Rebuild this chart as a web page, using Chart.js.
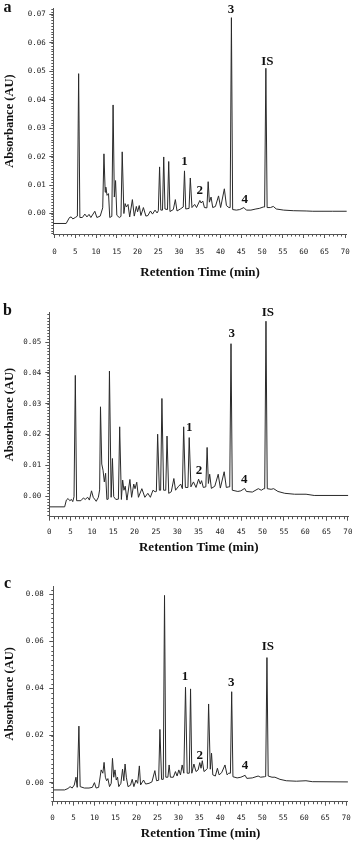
<!DOCTYPE html>
<html>
<head>
<meta charset="UTF-8">
<script src="https://cdn.jsdelivr.net/npm/chart.js@4"></script>
<style>
  body { margin: 0; background: #fff; }
  canvas { position: absolute; left: 0; }
</style>
</head>
<body>
<canvas id="chartA" width="359" height="280" style="top:0px"></canvas>
<canvas id="chartB" width="359" height="275" style="top:280px"></canvas>
<canvas id="chartC" width="359" height="286" style="top:555px"></canvas>
<script>
// retention time (min) and absorbance (AU)
const timeA = [-0.3, 2.8, 3.6, 4.0, 4.4, 5.0, 5.5, 5.8, 6.1, 6.7, 7.3, 7.8, 8.3, 8.75, 9.7, 10.2, 11.0, 11.6, 11.9, 12.2,
  12.35, 12.65, 13.0, 13.3, 13.8, 14.1, 14.4, 14.7, 15.0, 15.6, 16.0, 16.3, 16.7, 17.0, 17.3, 17.7, 18.1, 18.75, 19.2, 19.7,
  20.0, 20.4, 20.8, 21.4, 22.0, 22.5, 23.1, 23.6, 24.2, 24.7, 25.0, 25.3, 25.6, 26.0, 26.3, 26.6, 27.2, 27.5, 27.8, 28.6,
  29.1, 29.5, 30.3, 31.0, 31.3, 31.6, 32.4, 32.7, 33.1, 33.75, 34.2, 35.0, 35.3, 35.7, 36.1, 36.7, 37.0, 37.3, 37.7, 38.1,
  38.75, 39.5, 40.0, 40.9, 41.4, 42.0, 42.3, 42.6, 42.9, 43.8, 44.6, 45.6, 46.2, 47.3, 48.5, 49.3, 50.3, 50.6, 50.9, 51.2,
  52.0, 52.7, 53.4, 55.2, 57.5, 60.6, 62.2, 66.9, 70.4];
const absA = [-0.0035, -0.0035, -0.0014, -0.0012, -0.0019, -0.0014, -0.0009, 0.0492, -0.0014, -0.0014, -0.0002, -0.0012, -0.0003, -0.0014, 0.0008, -0.0014, -0.0009, 0.002, 0.021, 0.0075,
  0.0093, 0.0064, 0.007, -0.0014, -0.001, 0.0382, 0.0058, 0.0116, -0.0006, -0.0014, -0.001, 0.0217, 0, 0.0035, 0.0023, 0.0032, -0.0012, 0.0049, -0.0009, 0.0025,
  0.0006, 0.0028, -0.0007, 0.0021, -0.0009, -0.0007, 0.0009, -0.0002, 0.0012, 0.0002, 0.001, 0.0164, 0.0012, 0.0012, 0.0199, 0.0016, 0.0014, 0.0183, 0.0007, 0.0014,
  0.0049, 0.0009, 0.0016, 0.0023, 0.015, 0.0016, 0.0018, 0.0125, 0.0021, 0.0032, 0.0021, 0.0046, 0.0037, 0.0044, 0.0021, 0.002, 0.0112, 0.004, 0.0058, 0.0021,
  0.0025, 0.0062, 0.0021, 0.0087, 0.0028, 0.0021, 0.0021, 0.0689, 0.0014, 0.0012, 0.0014, 0.0021, 0.0012, 0.0012, 0.0016, 0.0018, 0.0023, 0.0023, 0.0511, 0.0021,
  0.0021, 0.0025, 0.0016, 0.0012, 0.001, 0.0009, 0.0008, 0.0008, 0.0008];

const timeB = [0, 3.6, 4.0, 4.4, 4.8, 5.2, 5.5, 5.8, 6.1, 6.4, 7.4, 8.0, 8.4, 9.0, 9.4, 9.9, 10.3, 11.0, 11.5, 11.8,
  12.0, 12.3, 12.6, 12.9, 13.2, 13.5, 13.8, 14.1, 14.5, 14.8, 15.1, 15.6, 16.2, 16.5, 16.9, 17.2, 17.5, 17.8, 18.2, 18.9,
  19.3, 19.8, 20.1, 20.5, 20.9, 21.7, 22.4, 23.1, 23.7, 24.3, 24.8, 25.1, 25.4, 25.8, 26.1, 26.4, 26.8, 27.3, 27.6, 28.0,
  28.6, 29.2, 29.6, 30.2, 30.8, 31.2, 31.5, 31.9, 32.5, 32.8, 33.2, 33.8, 34.4, 35.0, 35.4, 35.7, 36.1, 36.7, 37.0, 37.3,
  37.6, 38.0, 38.8, 39.6, 40.1, 41.0, 41.5, 42.1, 42.3, 42.6, 42.9, 44.2, 44.9, 45.8, 46.2, 47.6, 49.0, 49.7, 50.3, 50.5,
  50.8, 51.1, 52.0, 52.6, 53.6, 55.2, 57.5, 60.2, 62.1, 70.1];
const absB = [-0.0035, -0.0035, -0.0013, -0.0008, -0.0015, -0.0011, -0.0018, -0.0002, 0.0392, -0.0015, -0.0015, -0.0006, -0.0011, -0.0004, -0.0013, 0.0017, -0.0004, -0.0017, -0.0004, 0.002,
  0.029, 0.0104, 0.0084, 0.0046, 0.0074, -0.0011, -0.001, 0.0406, -0.0004, 0.0122, -0.0002, -0.0011, -0.001, 0.0225, -0.0011, 0.0052, 0.0019, 0.0032, -0.0013, 0.0054,
  -0.0004, 0.0039, 0.0024, 0.0045, -0.0004, 0.0024, -0.0004, 0.0009, -0.0004, 0.0019, 0.0014, 0.0015, 0.0201, 0.0019, 0.0019, 0.0317, 0.0019, 0.0019, 0.0195, 0.0009,
  0.0014, 0.0057, 0.0019, 0.003, 0.0039, 0.0024, 0.0225, 0.0028, 0.0028, 0.019, 0.003, 0.0046, 0.0028, 0.0055, 0.0039, 0.005, 0.0028, 0.003, 0.0158, 0.0041,
  0.0071, 0.0025, 0.0032, 0.0071, 0.0026, 0.0079, 0.0028, 0.003, 0.003, 0.0495, 0.0019, 0.0015, 0.0017, 0.0025, 0.0015, 0.0013, 0.0024, 0.0019, 0.0024, 0.0024,
  0.0568, 0.0024, 0.0022, 0.0024, 0.0015, 0.0009, 0.0006, 0.0006, 0.0002, 0.0002];

const timeC = [0.2, 2.9, 3.7, 4.2, 4.7, 5.2, 5.6, 5.9, 6.3, 6.6, 7.6, 8.7, 9.5, 10.0, 10.4, 11.0, 11.6, 12.0, 12.3, 12.6,
  12.9, 13.2, 13.6, 14.0, 14.3, 14.6, 14.9, 15.2, 15.5, 15.8, 16.3, 16.7, 17.0, 17.3, 17.6, 18.0, 18.6, 19.0, 19.4, 19.9,
  20.3, 20.7, 21.0, 21.7, 22.2, 23.0, 23.7, 24.4, 24.8, 25.3, 25.6, 26.0, 26.4, 26.7, 27.0, 27.5, 27.8, 28.1, 28.8, 29.3,
  29.7, 30.1, 30.5, 30.9, 31.3, 31.7, 32.1, 32.6, 32.9, 33.2, 33.7, 34.2, 34.7, 35.1, 35.4, 35.7, 36.1, 36.6, 36.9, 37.2,
  37.6, 37.9, 38.2, 38.8, 39.3, 39.7, 40.3, 41.1, 41.6, 42.0, 42.4, 42.7, 43.0, 44.0, 44.9, 45.9, 46.3, 47.6, 49.0, 49.6,
  50.5, 50.8, 51.1, 51.4, 52.3, 53.0, 54.2, 55.7, 58.1, 60.4, 61.9, 70.4];
const absC = [-0.0031, -0.0031, -0.0025, -0.0017, -0.0023, -0.001, 0.0023, -0.002, 0.024, -0.0017, -0.0023, -0.0023, -0.002, 0, -0.0023, -0.002, 0.0054, 0.004, 0.0086, 0.0023,
  0.0008, 0.0017, -0.0017, -0.0003, 0.0103, 0.0023, 0.0054, 0.0011, 0.0023, -0.0017, -0.0003, 0.0057, 0.0008, 0.0079, 0.0023, -0.0017, -0.0011, 0.0014, -0.0017, 0.0011,
  -0.0003, 0.0071, -0.001, 0.0011, -0.0006, -0.0003, 0.0003, 0.0051, 0.0008, 0.001, 0.0226, 0.0014, 0.0014, 0.0795, 0.0023, 0.0023, 0.0075, 0.0023, 0.0023, 0.0047,
  0.0028, 0.0054, 0.0033, 0.0075, 0.004, 0.0405, 0.004, 0.004, 0.0398, 0.004, 0.0079, 0.0047, 0.0054, 0.0085, 0.0061, 0.0093, 0.0047, 0.0054, 0.006, 0.0334,
  0.0057, 0.0125, 0.0033, 0.0028, 0.0061, 0.0033, 0.0042, 0.0075, 0.0033, 0.004, 0.004, 0.0386, 0.0025, 0.002, 0.0023, 0.0031, 0.0018, 0.002, 0.0028, 0.0023,
  0.0025, 0.0026, 0.0531, 0.0028, 0.0023, 0.0023, 0.0014, 0.0008, 0.0006, 0.0008, 0.0004, 0.0003];

// tick labels
const xTicks = [0, 5, 10, 15, 20, 25, 30, 35, 40, 45, 50, 55, 60, 65, 70];
const yTicksA = [0, 0.01, 0.02, 0.03, 0.04, 0.05, 0.06, 0.07];
const yTicksB = [0, 0.01, 0.02, 0.03, 0.04, 0.05];
const yTicksC = [0, 0.02, 0.04, 0.06, 0.08];

// peak labels (name, time, height of the label)
const peakNames = ['1', '2', '3', '4', 'IS'];
const peakTimeA = [31.3, 35.0, 42.5, 45.8, 51.25];
const peakLabelA = [0.0182, 0.0081, 0.0717, 0.0049, 0.0536];
const peakTimeB = [32.8, 35.1, 42.8, 45.7, 51.25];
const peakLabelB = [0.0223, 0.0082, 0.0528, 0.0054, 0.0596];
const peakTimeC = [31.6, 35.1, 42.6, 45.9, 51.3];
const peakLabelC = [0.0448, 0.0113, 0.0425, 0.0072, 0.0577];

const serif = '"Liberation Serif", "Times New Roman", serif';

// minor ticks, peak names and panel letter
const chromDecor = {
  id: 'chromDecor',
  afterDraw(chart, args, opts) {
    const { ctx, chartArea } = chart;
    const x = chart.scales.x, y = chart.scales.y;
    ctx.save();
    ctx.strokeStyle = '#555';
    ctx.lineWidth = 1;
    ctx.beginPath();
    for (let t = 0; t <= 70; t++) {
      if (t % 5 === 0) continue;
      const px = Math.round(x.getPixelForValue(t)) + 0.5;
      ctx.moveTo(px, chartArea.bottom);
      ctx.lineTo(px, chartArea.bottom + 2.5);
    }
    const k0 = Math.ceil(y.min / opts.minorY);
    for (let k = k0; k * opts.minorY <= y.max; k++) {
      const py = Math.round(y.getPixelForValue(k * opts.minorY)) + 0.5;
      ctx.moveTo(chartArea.left - 2, py);
      ctx.lineTo(chartArea.left, py);
    }
    ctx.stroke();

    ctx.fillStyle = '#111';
    ctx.textAlign = 'center';
    ctx.textBaseline = 'middle';
    ctx.font = 'bold 13px ' + serif;
    opts.names.forEach((n, i) => {
      ctx.fillText(n, x.getPixelForValue(opts.times[i]), y.getPixelForValue(opts.heights[i]));
    });
    ctx.font = 'bold 16px ' + serif;
    ctx.fillText(opts.letter, opts.letterX, opts.letterY);
    ctx.restore();
  }
};

function makePanel(id, p) {
  const pts = p.times.map((t, i) => ({ x: t, y: p.abs[i] }));
  new Chart(document.getElementById(id), {
    type: 'line',
    data: {
      datasets: [{
        data: pts,
        borderColor: '#2a2a2a',
        borderWidth: 1,
        pointRadius: 0,
        tension: 0,
        fill: false
      }]
    },
    options: {
      responsive: false,
      animation: false,
      layout: { padding: { top: p.top, right: p.right, left: 0, bottom: 0 } },
      plugins: {
        legend: { display: false },
        tooltip: { enabled: false },
        chromDecor: {
          minorY: p.minorY,
          names: peakNames,
          times: p.peakTimes,
          heights: p.peakHeights,
          letter: p.letter,
          letterX: 7.5,
          letterY: p.letterY
        }
      },
      scales: {
        x: {
          type: 'linear',
          min: p.xMin,
          max: p.xMax,
          afterBuildTicks: s => { s.ticks = xTicks.map(v => ({ value: v })); },
          afterFit: s => { s.height = p.xHeight; },
          grid: { drawOnChartArea: false, drawTicks: true, tickLength: 4, color: '#555' },
          border: { display: true, color: '#555', width: 1 },
          ticks: {
            autoSkip: false,
            maxRotation: 0,
            padding: p.xPad,
            color: '#222',
            font: { family: '"DejaVu Sans Mono", monospace', size: 7.5 },
            callback: v => String(v)
          },
          title: {
            display: true,
            text: 'Retention Time (min)',
            color: '#111',
            font: { family: serif, weight: 'bold', size: 13 },
            padding: { top: 0, bottom: 0 }
          }
        },
        y: {
          min: p.yMin,
          max: p.yMax,
          afterBuildTicks: s => { s.ticks = p.yTicks.map(v => ({ value: v })); },
          afterFit: s => { s.width = p.left; },
          grid: { drawOnChartArea: false, drawTicks: true, tickLength: 4, color: '#555' },
          border: { display: true, color: '#555', width: 1 },
          ticks: {
            padding: p.yPad,
            color: '#222',
            font: { family: '"DejaVu Sans Mono", monospace', size: 7.5 },
            callback: v => v.toFixed(2)
          },
          title: {
            display: true,
            text: 'Absorbance (AU)',
            color: '#111',
            font: { family: serif, weight: 'bold', size: 12.5 },
            padding: { top: 2, bottom: 0 }
          }
        }
      }
    },
    plugins: [chromDecor]
  });
}

makePanel('chartA', {
  times: timeA, abs: absA, yTicks: yTicksA, peakTimes: peakTimeA, peakHeights: peakLabelA,
  letter: 'a', letterY: 8, xMin: -0.3, xMax: 70.4, yMin: -0.0072, yMax: 0.0723, minorY: 0.001,
  top: 5, right: 4, left: 53.3, xHeight: 46, xPad: 9.3, yPad: 3.5
});
makePanel('chartB', {
  times: timeB, abs: absB, yTicks: yTicksB, peakTimes: peakTimeB, peakHeights: peakLabelB,
  letter: 'b', letterY: 31, xMin: 0, xMax: 70.1, yMin: -0.0067, yMax: 0.0597, minorY: 0.001,
  top: 32.3, right: 4, left: 49.3, xHeight: 38.3, xPad: 6.6, yPad: 4
});
makePanel('chartC', {
  times: timeC, abs: absC, yTicks: yTicksC, peakTimes: peakTimeC, peakHeights: peakLabelC,
  letter: 'c', letterY: 28.5, xMin: 0.2, xMax: 70.4, yMin: -0.0081, yMax: 0.0835, minorY: 0.002,
  top: 31, right: 2.3, left: 53.3, xHeight: 39.3, xPad: 8.2, yPad: 5.5
});
</script>
</body>
</html>
